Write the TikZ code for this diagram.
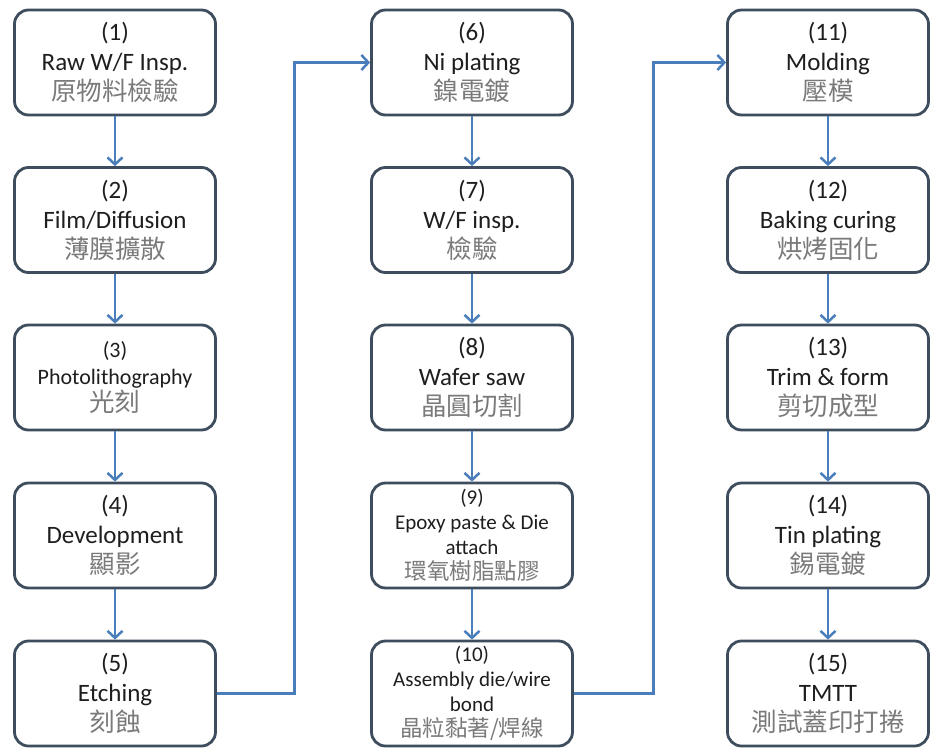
\documentclass[tikz,border=0pt]{standalone}
\usepackage{fontspec}
\setmainfont{Carlito}
\newfontfamily\cjk{Noto Sans CJK TC}
\usepackage{tikz}
\usetikzlibrary{arrows.meta, positioning}
\definecolor{boxc}{HTML}{3E4D5E}
\definecolor{arrc}{HTML}{4A7EBB}
\definecolor{txtc}{HTML}{1E1E1E}
\definecolor{zhc}{HTML}{7A7A7A}
\newcommand{\zh}[1]{{\cjk\color{zhc}\fontsize{25.5}{30}\selectfont #1}}
\newcommand{\zhs}[1]{{\cjk\color{zhc}\fontsize{22.5}{25}\selectfont #1}}

\begin{document}
\begin{tikzpicture}[x=1pt, y=-1pt]
	\tikzstyle{procc}=[rectangle, rounded corners=14pt, draw=boxc, line width=2.8pt, fill=white, minimum width=201pt, minimum height=105pt, align=center, text=txtc, font=\fontsize{25}{30}\selectfont]
	\tikzstyle{smallc}=[font=\fontsize{21}{25}\selectfont]
	\tikzstyle{flow}=[draw=arrc, line width=2.5pt, -{Straight Barb[length=7pt, width=15pt, line width=2.5pt]}]
	\useasboundingbox (0,0) rectangle (930,753);
	
	% column 1
	\node (b1) at (115,62.5) [procc]{(1)\\Raw W/F Insp.\\\zh{原物料檢驗}};
	\node (b2) at (115,220) [procc]{(2)\\Film/Diffusion\\\zh{薄膜擴散}};
	\node (b3) at (115,377.5) [procc, font=\fontsize{22}{27}\selectfont]{(3)\\Photolithography\\\zh{光刻}};
	\node (b4) at (115,535.5) [procc]{(4)\\Development\\\zh{顯影}};
	\node (b5) at (115,693.5) [procc]{(5)\\Etching\\\zh{刻蝕}};
	
	% column 2
	\node (b6) at (472,62.5) [procc]{(6)\\Ni plating\\\zh{鎳電鍍}};
	\node (b7) at (472,220) [procc]{(7)\\W/F insp.\\\zh{檢驗}};
	\node (b8) at (472,377.5) [procc]{(8)\\Wafer saw\\\zh{晶圓切割}};
	\node (b9) at (472,535.5) [procc, smallc]{(9)\\Epoxy paste \& Die\\attach\\\zhs{環氧樹脂點膠}};
	\node (b10) at (472,693.5) [procc, smallc]{(10)\\Assembly die/wire\\bond\\\zhs{晶粒黏著/焊線}};
	
	% column 3
	\node (b11) at (828,62.5) [procc]{(11)\\Molding\\\zh{壓模}};
	\node (b12) at (828,220) [procc]{(12)\\Baking curing\\\zh{烘烤固化}};
	\node (b13) at (828,377.5) [procc]{(13)\\Trim \& form\\\zh{剪切成型}};
	\node (b14) at (828,535.5) [procc]{(14)\\Tin plating\\\zh{錫電鍍}};
	\node (b15) at (828,693.5) [procc]{(15)\\TMTT\\\zh{測試蓋印打捲}};
	
	\draw[flow] (b1) -- (b2);
	\draw[flow] (b2) -- (b3);
	\draw[flow] (b3) -- (b4);
	\draw[flow] (b4) -- (b5);
	\draw[flow] (b5.east) -- ++(77.5,0) |- (b6.west);
	
	\draw[flow] (b6) -- (b7);
	\draw[flow] (b7) -- (b8);
	\draw[flow] (b8) -- (b9);
	\draw[flow] (b9) -- (b10);
	\draw[flow] (b10.east) -- ++(79.5,0) |- (b11.west);
	
	\draw[flow] (b11) -- (b12);
	\draw[flow] (b12) -- (b13);
	\draw[flow] (b13) -- (b14);
	\draw[flow] (b14) -- (b15);
\end{tikzpicture}
\end{document}
